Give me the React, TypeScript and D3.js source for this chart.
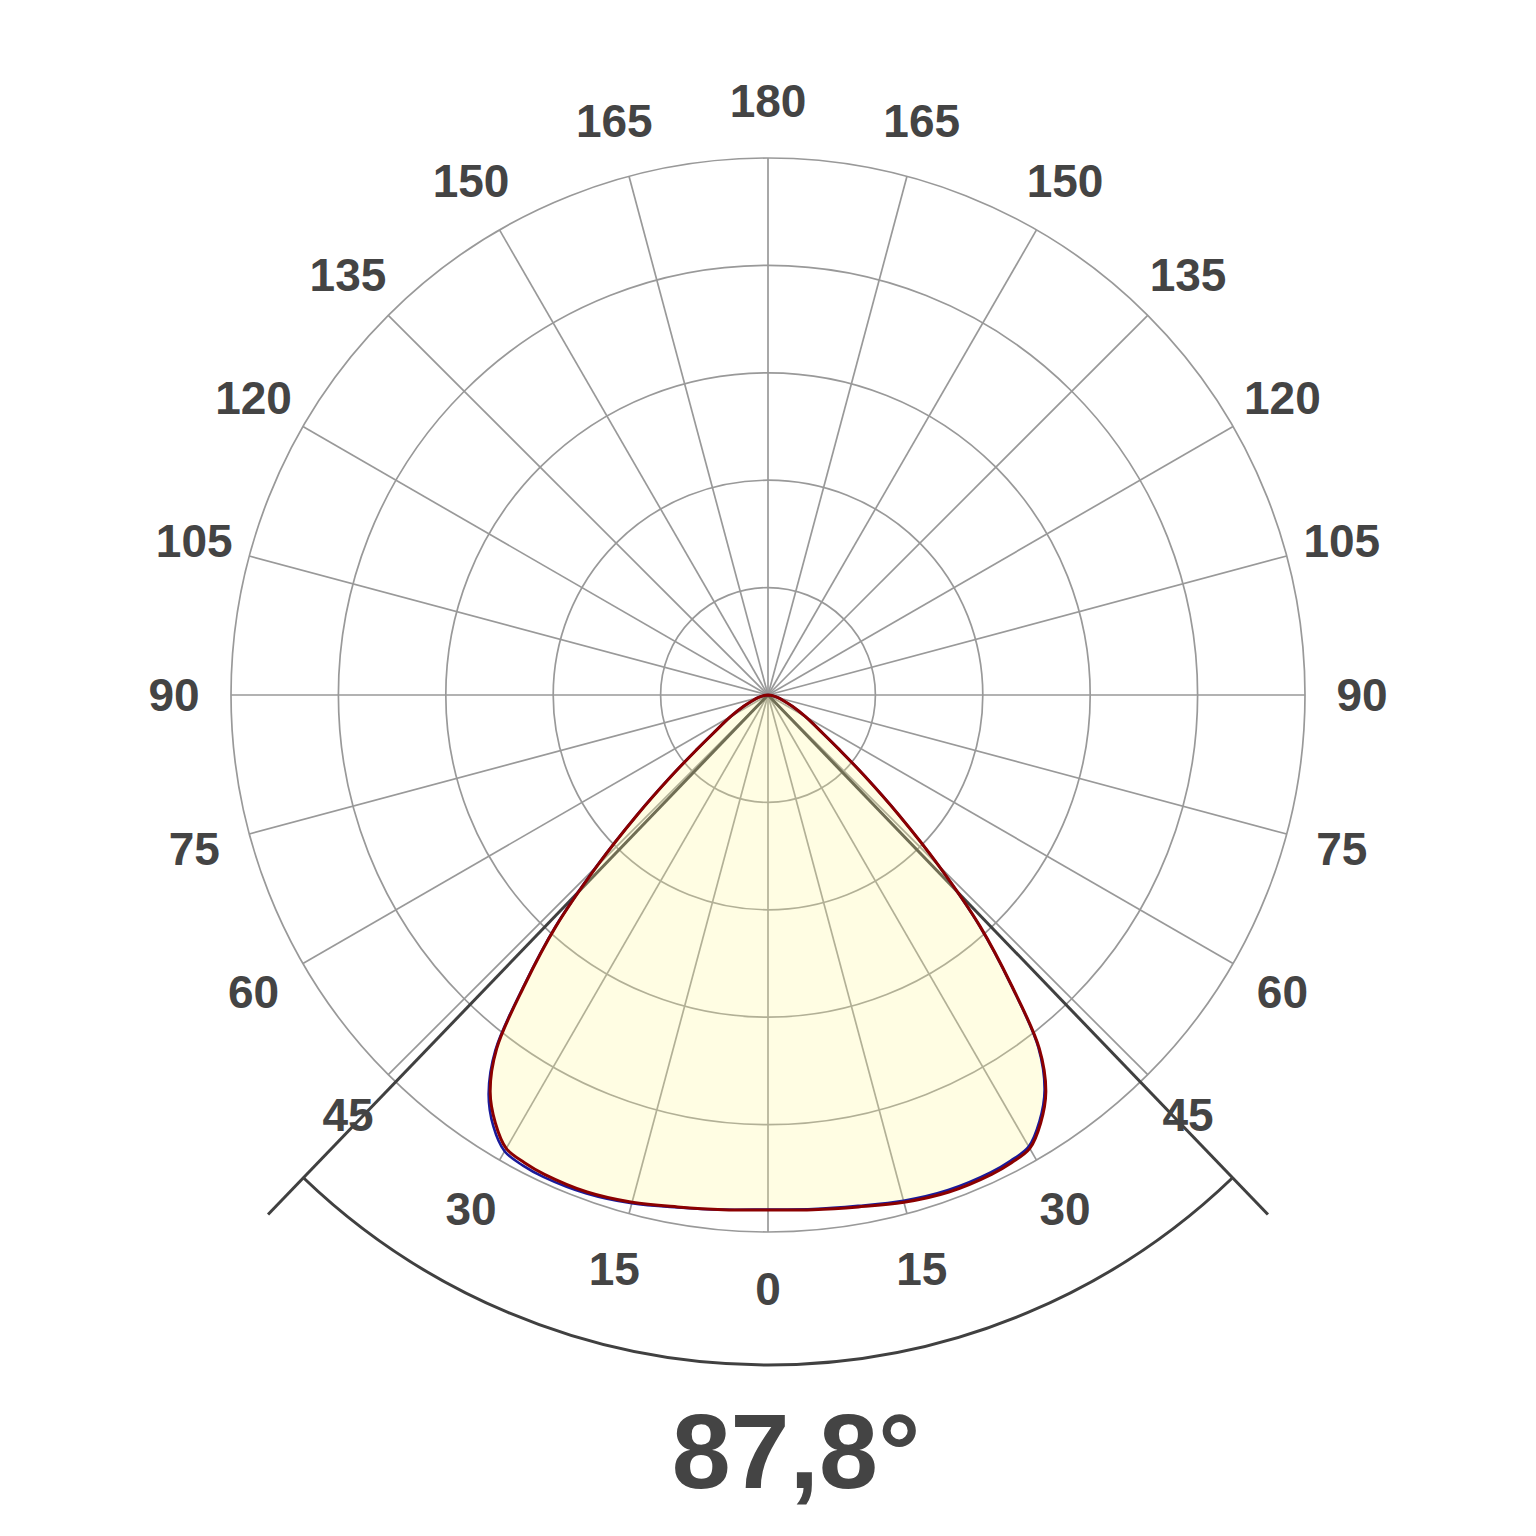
import * as d3 from 'd3';
import React from 'react';

// polar angles in degrees (0 = straight down), relative intensity per angle
const gammaAngles = [0, 5, 10, 15, 20, 25, 27.5, 30, 32.5, 35, 37.5, 40, 42.5, 45, 47.5, 50, 52.5, 55, 60, 65, 70, 75, 80, 85, 90];
// C0-C180 plane (red), symmetric
const planeC0 = [0.959, 0.962, 0.968, 0.978, 0.985, 0.985, 0.982, 0.975, 0.945, 0.902, 0.83, 0.705, 0.585, 0.45, 0.33, 0.236, 0.168, 0.125, 0.08, 0.05, 0.03, 0.02, 0.01, 0.005, 0];
// C90-C270 plane (blue), slightly asymmetric: left half / right half
const planeC270 = [0.958, 0.962, 0.969, 0.98, 0.988, 0.99, 0.988, 0.981, 0.952, 0.907, 0.834, 0.708, 0.587, 0.452, 0.331, 0.236, 0.168, 0.125, 0.08, 0.05, 0.03, 0.02, 0.01, 0.005, 0];
const planeC90 = [0.958, 0.961, 0.966, 0.975, 0.981, 0.981, 0.978, 0.971, 0.941, 0.898, 0.827, 0.703, 0.583, 0.449, 0.33, 0.236, 0.168, 0.125, 0.08, 0.05, 0.03, 0.02, 0.01, 0.005, 0];

const ringValues = [0.2, 0.4, 0.6, 0.8, 1.0];
const spokeAngles = d3.range(0, 360, 15);
const labelAngles = [0, 15, 30, 45, 60, 75, 90, 105, 120, 135, 150, 165, 180];
const beamAngle = 87.8;

const W = 1536;
const cx = 768;
const cy = 695;
const gridColor = '#999999';
const textColor = '#444444';

export default function App() {
  const r = d3.scaleLinear().domain([0, 1]).range([0, 537]);
  // gamma (deg, signed: + right, - left) -> d3 radial angle (rad, clockwise from up)
  const toRad = (g: number) => Math.PI - (g * Math.PI) / 180;
  const pt = (g: number, rad: number) => [cx + rad * Math.sin(toRad(g)), cy - rad * Math.cos(toRad(g))];

  const buildPath = (right: number[], left: number[]) => {
    const pts: [number, number][] = [];
    for (let i = gammaAngles.length - 1; i > 0; i--) pts.push([toRad(gammaAngles[i]), r(right[i])]);
    for (let i = 0; i < gammaAngles.length; i++) pts.push([toRad(-gammaAngles[i]), r(left[i])]);
    return d3.lineRadial<[number, number]>()
      .angle(d => d[0])
      .radius(d => d[1])
      .curve(d3.curveCatmullRom.alpha(0.5))(pts) as string;
  };

  const half = beamAngle / 2;
  const arc = d3.arc()({
    innerRadius: 670,
    outerRadius: 670,
    startAngle: toRad(half),
    endAngle: toRad(-half),
  }) as string;

  return (
    <svg width={W} height={W} style={{ position: 'absolute', left: 0, top: 0, background: '#fff' }}
      fontFamily="'Liberation Sans', Arial, sans-serif" fontWeight="bold">
      <g fill="none" stroke={gridColor} strokeWidth={1.7}>
        {ringValues.map(v => (
          <circle key={v} cx={cx} cy={cy} r={r(v)} />
        ))}
        {spokeAngles.map(a => {
          const [x, y] = pt(a, r(1));
          return <line key={a} x1={cx} y1={cy} x2={x} y2={y} />;
        })}
      </g>
      <g fill="none" stroke="#404040" strokeWidth={3}>
        {[half, -half].map(g => {
          const [x, y] = pt(g, 721);
          return <line key={g} x1={cx} y1={cy} x2={x} y2={y} />;
        })}
        <path d={arc} transform={`translate(${cx},${cy})`} />
      </g>
      <g fill={textColor} fontSize={46} textAnchor="middle" dominantBaseline="central">
        {labelAngles.flatMap(a => {
          const sides = a === 0 || a === 180 ? [a] : [a, -a];
          return sides.map(g => {
            const [x, y] = pt(g, 594);
            return <text key={g} x={x} y={y}>{a}</text>;
          });
        })}
      </g>
      <g transform={`translate(${cx},${cy})`}>
        <path d={buildPath(planeC0, planeC0)} fill="#fff68f" fillOpacity={0.25} stroke="none" />
        <path d={buildPath(planeC90, planeC270)} fill="none" stroke="#1a1a9a" strokeWidth={2.6} />
        <path d={buildPath(planeC0, planeC0)} fill="none" stroke="#8b0000" strokeWidth={3} />
      </g>
      <text x={796} y={1488} fontSize={106} fill={textColor} textAnchor="middle">87,8°</text>
    </svg>
  );
}
